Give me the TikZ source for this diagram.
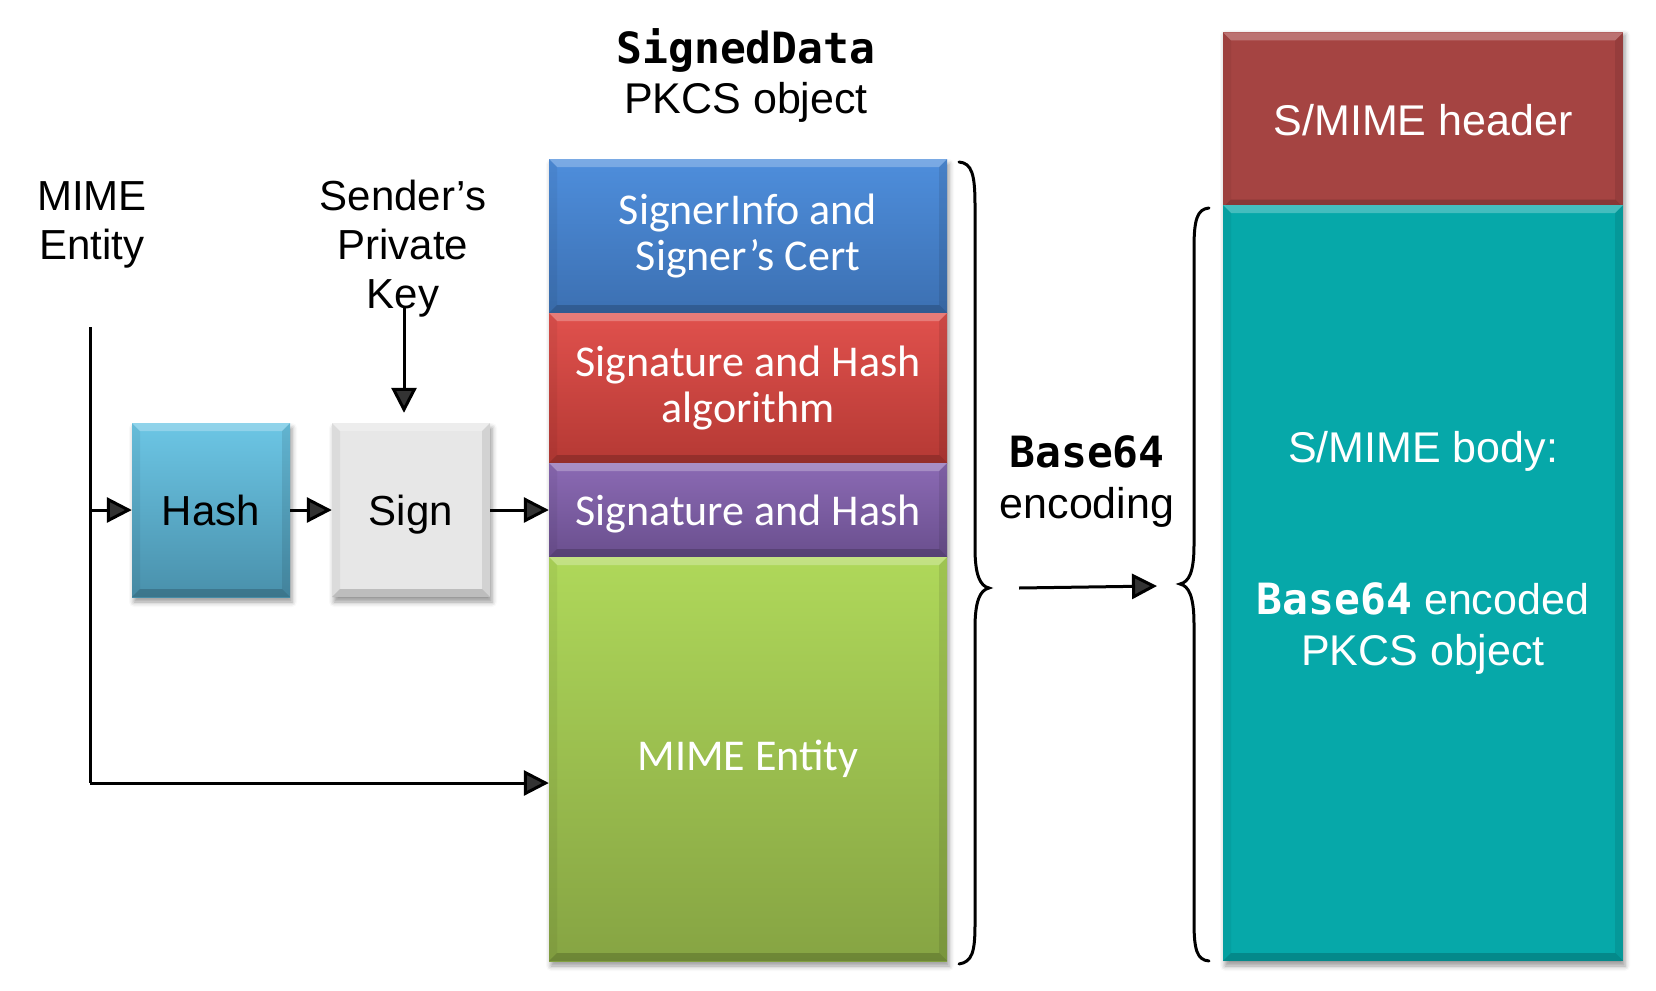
\documentclass[tikz,border=0pt]{standalone}
\usepackage{fontspec}
\setmainfont{Liberation Sans}
\newfontfamily\carlito{Carlito}
\newfontfamily\dvmono{DejaVu Sans Mono}
\usetikzlibrary{arrows.meta,shadows.blur}

\definecolor{blueT}{HTML}{4E8EDC}
\definecolor{blueB}{HTML}{3C70B2}
\definecolor{redT}{HTML}{E0514D}
\definecolor{redB}{HTML}{B53934}
\definecolor{purT}{HTML}{8B6AB4}
\definecolor{purB}{HTML}{6A4F8E}
\definecolor{grnT}{HTML}{AFD85A}
\definecolor{grnB}{HTML}{86A443}
\definecolor{hashT}{HTML}{6CC6E5}
\definecolor{hashB}{HTML}{4990AB}
\definecolor{signC}{HTML}{E7E7E7}
\definecolor{hdrC}{HTML}{A54442}
\definecolor{bodyC}{HTML}{06A8A9}

\tikzset{
  bevel/.style={path picture={
    \fill[white,opacity=0.25] (path picture bounding box.north west) -- (path picture bounding box.north east)
      -- ([xshift=-8pt,yshift=-8pt]path picture bounding box.north east) -- ([xshift=8pt,yshift=-8pt]path picture bounding box.north west) -- cycle;
    \fill[black,opacity=0.18] (path picture bounding box.south west) -- (path picture bounding box.south east)
      -- ([xshift=-8pt,yshift=8pt]path picture bounding box.south east) -- ([xshift=8pt,yshift=8pt]path picture bounding box.south west) -- cycle;
    \fill[black,opacity=0.05] (path picture bounding box.north west) -- ([xshift=8pt,yshift=-8pt]path picture bounding box.north west)
      -- ([xshift=8pt,yshift=8pt]path picture bounding box.south west) -- (path picture bounding box.south west) -- cycle;
    \fill[black,opacity=0.09] (path picture bounding box.north east) -- ([xshift=-8pt,yshift=-8pt]path picture bounding box.north east)
      -- ([xshift=-8pt,yshift=8pt]path picture bounding box.south east) -- (path picture bounding box.south east) -- cycle;
  }},
  block/.style={rectangle, inner sep=0pt, align=center, text=white, bevel},
  cfont/.style={font=\carlito\fontsize{44}{46}\selectfont},
  afont/.style={font=\fontsize{42}{49}\selectfont},
  shad/.style={blur shadow={shadow xshift=2pt,shadow yshift=-5pt,shadow blur radius=5pt,shadow opacity=40}},
  arr/.style={line width=3pt,-{Triangle[length=25pt,width=25pt]}},
  brace/.style={line width=3pt,line cap=round}
}

\begin{document}
\begin{tikzpicture}[x=1pt,y=-1pt]
\useasboundingbox (0,0) rectangle (1656,990);

% column shadows
\path[shad] (549,159) rectangle (947,961);
\path[shad] (1223,30) rectangle (1623,961);

% signed data column
\node[block,cfont,top color=blueT,bottom color=blueB,minimum width=398pt,minimum height=154pt] (info) at (748,236) {SignerInfo and\\Signer’s Cert};
\node[block,cfont,top color=redT,bottom color=redB,minimum width=398pt,minimum height=150pt] (alg) at (748,388) {Signature and Hash\\algorithm};
\node[block,cfont,top color=purT,bottom color=purB,minimum width=398pt,minimum height=94pt,text height=30pt,text depth=0pt] (sig) at (748,510) {Signature and Hash};
\node[block,cfont,top color=grnT,bottom color=grnB,minimum width=398pt,minimum height=404pt] (ent) at (748,759) {MIME Entity};

% hash and sign
\node[block,afont,shad,text=black,top color=hashT,bottom color=hashB,minimum width=158pt,minimum height=174pt,text height=30pt,text depth=0pt] (hash) at (211,510) {Hash};
\node[block,afont,shad,text=black,fill=signC,minimum width=158pt,minimum height=174pt,text height=30pt,text depth=0pt] (sign) at (411,510) {Sign};

% S/MIME column
\node[block,font=\fontsize{43}{49}\selectfont,fill=hdrC,minimum width=400pt,minimum height=175pt] (hdr) at (1423,120) {S/MIME header};
\node[block,fill=bodyC,minimum width=400pt,minimum height=756pt] (body) at (1423,583) {};
\node[text=white,font=\fontsize{43}{49}\selectfont] (bodylbl) at (1423,451) {S/MIME body:};
\node[text=white,align=center,font=\fontsize{43}{51}\selectfont] (bodytxt) at (1423,629) {{\dvmono\bfseries Base64} encoded\\PKCS object};

% labels
\node[align=center,font=\fontsize{43}{50}\selectfont] (title) at (746,75) {{\dvmono\bfseries SignedData}\\PKCS object};
\node[align=center,afont] (mime) at (92,225) {MIME\\Entity};
\node[align=center,afont] (key) at (403,249) {Sender’s\\Private\\Key};
\node[align=center,font=\fontsize{43}{51}\selectfont] (b64) at (1087,482) {{\dvmono\bfseries Base64}\\encoding};

% connectors
\coordinate (mtop) at (90,327);
\coordinate (mbot) at (90,783);
\coordinate (ktop) at (404,308);
\coordinate (asrc) at (1019,588);
\coordinate (adst) at (1157,586);

\draw[line width=3pt] (mtop) -- (mbot);
\draw[arr] (mbot) -- (ent.west |- mbot);
\draw[arr] (mtop |- hash.west) -- (hash.west);
\draw[arr] (hash) -- (sign);
\draw[arr] (sign.east) -- (sig.west);
\draw[arr,shorten >=10pt] (ktop) -- (ktop |- sign.north);
\draw[arr] (asrc) -- (adst);

% braces
\draw[brace] (959,162) .. controls (972,163) and (975,175) .. (975,205) -- (975,548)
  .. controls (975,575) and (980,586) .. (989,588)
  .. controls (980,590) and (975,601) .. (975,628) -- (975,925)
  .. controls (975,952) and (972,962) .. (959,964);
\draw[brace] (1209,208) .. controls (1197,209) and (1194,220) .. (1194,248) -- (1194,545)
  .. controls (1194,572) and (1189,582) .. (1180,584)
  .. controls (1189,586) and (1194,597) .. (1194,624) -- (1194,922)
  .. controls (1194,950) and (1197,960) .. (1209,961);
\end{tikzpicture}
\end{document}
